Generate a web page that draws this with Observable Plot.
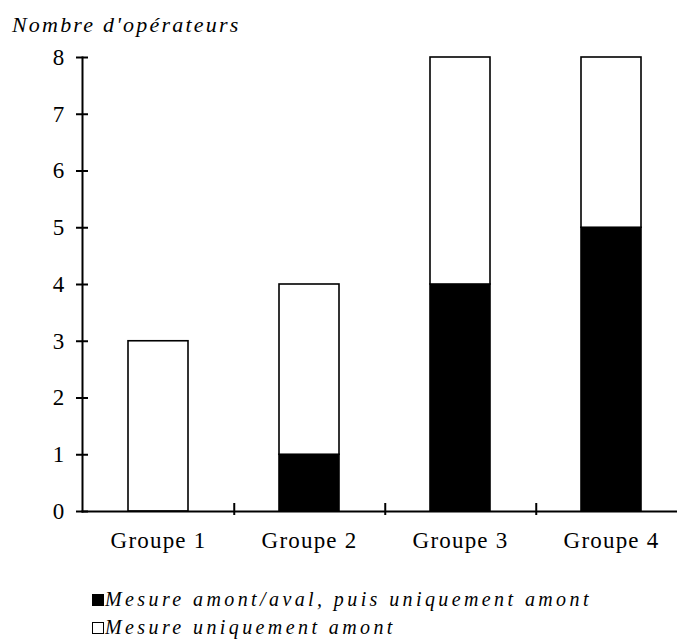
<!DOCTYPE html>
<html><head><meta charset="utf-8">
<script src="https://cdn.jsdelivr.net/npm/d3@7"></script>
<script src="https://cdn.jsdelivr.net/npm/@observablehq/plot@0.6"></script>
<style>
body{margin:0;background:#fff;}
#wrap{position:relative;width:677px;height:641px;overflow:hidden;font-family:"Liberation Serif","Times New Roman",serif;color:#000;}
#chart{position:absolute;left:0;top:0;}
#chart svg text{letter-spacing:1.2px;}
#title{position:absolute;left:12px;top:14px;font-size:22px;line-height:22px;font-style:italic;letter-spacing:2.2px;white-space:nowrap;}
.leg{position:absolute;left:92px;font-size:20px;line-height:20px;font-style:italic;letter-spacing:3.4px;white-space:nowrap;}
.sw{display:inline-block;width:12px;height:12px;box-sizing:border-box;vertical-align:baseline;margin-right:1px;border:1px solid #000;}
</style>
</head><body>
<div id="wrap">
<div id="chart"></div>
<div id="title"></div>
<div id="legend"></div>
</div>
<script>
const titleText = "Nombre d'opérateurs";
const groups = ["Groupe 1", "Groupe 2", "Groupe 3", "Groupe 4"];
const seriesNames = ["Mesure amont/aval, puis uniquement amont", "Mesure uniquement amont"];
const amontAval = [0, 1, 4, 5];
const amontSeul = [3, 3, 4, 3];
const yTicks = [0, 1, 2, 3, 4, 5, 6, 7, 8];
const seriesColors = ["#000000", "#ffffff"];

const data = groups.flatMap((g, i) => [
  {group: g, series: seriesNames[0], value: amontAval[i]},
  {group: g, series: seriesNames[1], value: amontSeul[i]}
]).filter(d => d.value > 0);

const xRange = [82, 688];
const step = (xRange[1] - xRange[0]) / groups.length;

const chart = Plot.plot({
  width: 677,
  height: 560,
  marginLeft: 82,
  marginRight: 0,
  marginTop: 57,
  marginBottom: 49,
  style: {fontFamily: "Liberation Serif, Times New Roman, serif", fontSize: "23px", background: "white", color: "black", overflow: "hidden"},
  x: {domain: groups, range: xRange, paddingInner: 0.6, paddingOuter: 0.3, axis: null, label: null},
  y: {domain: [yTicks[0], yTicks[yTicks.length - 1]], axis: null, label: null},
  color: {domain: seriesNames, range: seriesColors},
  marks: [
    Plot.barY(data, {x: "group", y: "value", fill: "series", stroke: "#000", strokeWidth: 1.6}),
    Plot.frame({anchor: "left", strokeWidth: 2}),
    Plot.frame({anchor: "bottom", strokeWidth: 2}),
    Plot.axisY({ticks: yTicks, label: null, tickSize: 12, dx: 6, tickPadding: 11, strokeWidth: 2, fontSize: 23}),
    Plot.axisX({ticks: groups.slice(0, -1), label: null, text: null, tickSize: 12, dy: -8, dx: step / 2, strokeWidth: 2}),
    Plot.axisX({ticks: groups, label: null, tickSize: 0, tickPadding: 20, fontSize: 23})
  ]
});
document.getElementById("chart").appendChild(chart);
document.getElementById("title").textContent = titleText;

const leg = document.getElementById("legend");
const legTops = [589, 617];
seriesNames.forEach((name, i) => {
  const row = document.createElement("div");
  row.className = "leg";
  row.style.top = legTops[i] + "px";
  const sw = document.createElement("span");
  sw.className = "sw";
  sw.style.background = seriesColors[i];
  row.appendChild(sw);
  row.appendChild(document.createTextNode(name));
  leg.appendChild(row);
});
</script>
</body></html>
